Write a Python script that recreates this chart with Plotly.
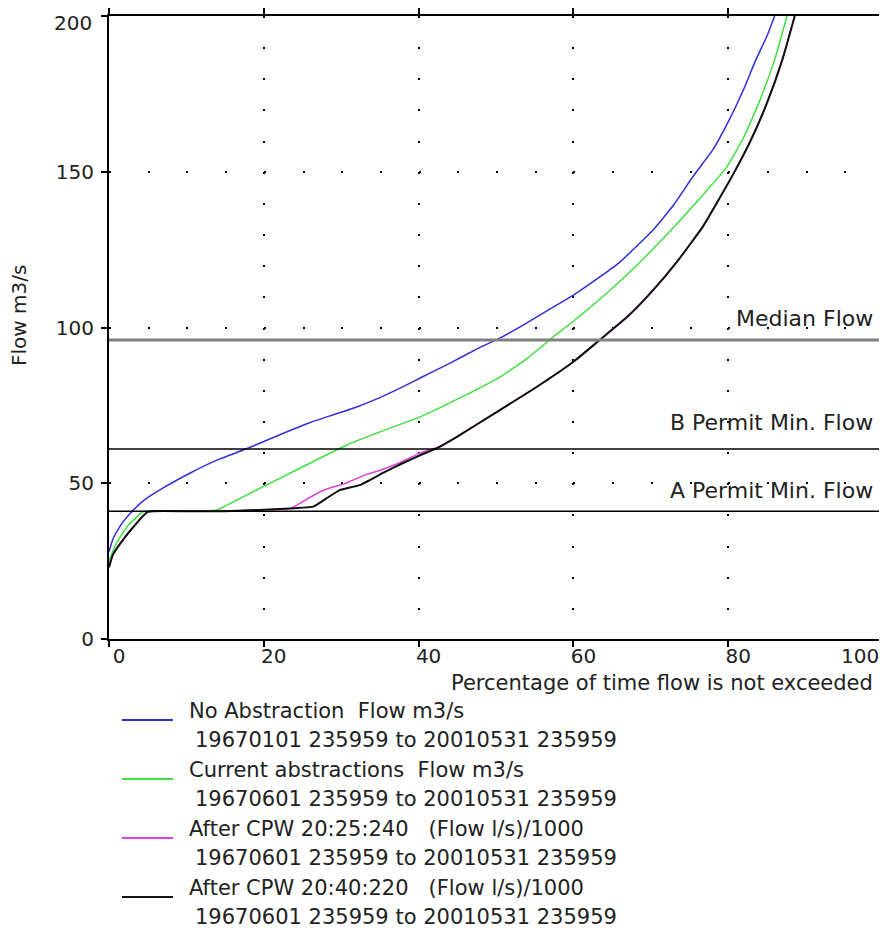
import plotly.graph_objects as go

# ---------------- data ----------------
blue_x = [0, 0.5, 1.5, 3, 4.5, 7, 10.5, 14, 18, 22, 26, 29, 32, 35, 38, 40.2, 44, 48, 50.5,
          54, 57, 60, 63, 66, 70.3, 73, 75.4, 78, 80, 82, 83.5, 85, 86]
blue_y = [28, 32, 36.5, 41, 44.5, 48.5, 53.3, 57.5, 61.3, 65.5, 69.5, 72, 74.5, 77.5, 81, 83.8, 88.5, 93.7, 96.6,
          101.5, 106, 110.4, 115.5, 121, 131.3, 139.5, 148.3, 157, 166, 176.5, 185.5, 193.5, 200]

green_x = [0, 1, 2.5, 4.5, 8, 12, 14, 18, 22, 26, 30.7, 35, 40.2, 45, 50.5, 54, 57.4, 60, 64.3,
           68, 72.9, 76, 79.8, 82, 84.1, 86, 87.6]
green_y = [25, 31, 36.5, 41, 41, 41, 41.5, 46.5, 51.5, 56.5, 62.3, 66.5, 71.3, 77, 84.1, 90, 97, 102, 111,
           119.5, 132, 140.5, 151.5, 161, 173, 186, 200]

magenta_x = [0, 0.5, 1.8, 3.5, 5, 10, 15, 20, 23, 24.3, 26, 27.5, 28.9, 30.4, 32, 33.5, 35.4, 37.5, 40,
             42.4, 45, 50.5, 55, 60, 63.4, 67, 70.3, 73.5, 76.7, 80.6, 83, 85, 87, 88.6]
magenta_y = [23, 27, 31.8, 37, 40.8, 41, 41, 41.5, 41.7, 43, 45.5, 47.5, 48.8, 49.8, 51.5, 53, 54.5, 56.5, 59.5,
             61.5, 65, 73.5, 80.5, 89, 96, 103.5, 112, 121.5, 132.3, 149, 160.5, 172, 186, 200]

black_x = [0, 0.5, 1.8, 3.5, 5, 10, 15, 20, 24, 26.4, 28, 29.8, 32.4, 35.4, 38, 40.2, 42.4, 45, 50.5,
           55, 60, 63.4, 67, 70.3, 73.5, 76.7, 80.6, 83, 85, 87, 88.6]
black_y = [23, 27, 31.8, 37, 40.8, 41, 41, 41.5, 42, 42.5, 45, 47.8, 49.4, 53.3, 56.5, 59, 61.3, 65, 73.5,
           80.5, 89, 96, 103.5, 112, 121.5, 132.3, 149, 160.5, 172, 186, 200]

series_names = ["No Abstraction  Flow m3/s",
                "Current abstractions  Flow m3/s",
                "After CPW 20:25:240   (Flow l/s)/1000",
                "After CPW 20:40:220   (Flow l/s)/1000"]
series_periods = ["19670101 235959 to 20010531 235959",
                  "19670601 235959 to 20010531 235959",
                  "19670601 235959 to 20010531 235959",
                  "19670601 235959 to 20010531 235959"]
series_colors = ["#3030d8", "#40e040", "#e040e0", "#111111"]

ref_levels = [96, 61, 41]
ref_labels = ["Median Flow", "B Permit Min. Flow", "A Permit Min. Flow"]

x_ticks = [0, 20, 40, 60, 80]
x_tick_last = 100
y_ticks = [0, 50, 100, 150]
y_tick_top = 200

FONT = "DejaVu Sans"
TXT = "#222222"

# page body has an 8px margin; figure is sized to fill the rest of the window
OX, OY = 8, 8
W, H = 887 - OX, 933 - OY
PL, PR, PT, PB = 109, 883, 16, 639          # plot box in window pixels
ml, mr, mt, mb = PL - OX, W - (PR - OX), PT - OY, H - (PB - OY)
pw, ph = W - ml - mr, H - mt - mb


def px_x(px):
    return (px - OX - ml) / pw


def px_y(py):
    return (H - mb - (py - OY)) / ph


fig = go.Figure()

# reference lines
ref_styles = [dict(color="#808080", width=3), dict(color="#000000", width=1.5), dict(color="#000000", width=1.5)]
ref_yshift = [21, 26, 21]
for lvl, lab, st, ys in zip(ref_levels, ref_labels, ref_styles, ref_yshift):
    fig.add_shape(type="line", xref="paper", yref="y", x0=0, x1=1, y0=lvl, y1=lvl, line=st, layer="above")
    fig.add_annotation(x=99, y=lvl, xref="x", yref="y", text=lab, showarrow=False,
                       xanchor="right", yanchor="middle", yshift=ys,
                       font=dict(family=FONT, size=22, color=TXT))

xs = [blue_x, green_x, magenta_x, black_x]
ysr = [blue_y, green_y, magenta_y, black_y]
widths = [1.5, 1.5, 1.5, 2]
for i in range(4):
    fig.add_trace(go.Scatter(x=xs[i], y=ysr[i], mode="lines",
                             line=dict(color=series_colors[i], width=widths[i], shape="spline", smoothing=0.4),
                             showlegend=False, hoverinfo="skip"))

# legend drawn manually
for i in range(4):
    base = 711 + 59 * i
    fig.add_shape(type="line", xref="paper", yref="paper", x0=px_x(122), x1=px_x(173),
                  y0=px_y(base + 9), y1=px_y(base + 9), line=dict(color=series_colors[i], width=2))
    fig.add_annotation(xref="paper", yref="paper", x=px_x(187), y=px_y(base), text=series_names[i],
                       showarrow=False, xanchor="left", yanchor="middle",
                       font=dict(family=FONT, size=21, color=TXT))
    fig.add_annotation(xref="paper", yref="paper", x=px_x(193), y=px_y(base + 29), text=series_periods[i],
                       showarrow=False, xanchor="left", yanchor="middle",
                       font=dict(family=FONT, size=21, color=TXT))

# axis titles
fig.add_annotation(xref="paper", yref="paper", x=px_x(875), y=px_y(683),
                   text="Percentage of time flow is not exceeded",
                   showarrow=False, xanchor="right", yanchor="middle", font=dict(family=FONT, size=21, color=TXT))
fig.add_annotation(xref="paper", yref="paper", x=px_x(19), y=px_y(316), text="Flow m3/s", textangle=-90,
                   showarrow=False, xanchor="center", yanchor="middle", font=dict(family=FONT, size=20, color=TXT))
# last x tick label (right-aligned to stay inside the frame)
fig.add_annotation(xref="paper", yref="paper", x=px_x(881), y=px_y(656), text=str(x_tick_last), showarrow=False,
                   xanchor="right", yanchor="middle", font=dict(family=FONT, size=20, color=TXT))
# top y tick label (kept inside the page)
fig.add_annotation(xref="paper", yref="y", x=px_x(94), y=y_tick_top, yshift=-7, text=str(y_tick_top),
                   showarrow=False, xanchor="right", yanchor="middle", font=dict(family=FONT, size=20, color=TXT))

fig.update_layout(
    width=W, height=H, autosize=False,
    margin=dict(l=ml, r=mr, t=mt, b=mb, pad=0, autoexpand=False),
    paper_bgcolor="white", plot_bgcolor="white",
    font=dict(family=FONT, size=20, color=TXT),
    showlegend=False,
    xaxis=dict(range=[0, 100], tickvals=x_ticks, ticktext=[str(v) for v in x_ticks], automargin=False,
               ticklabelshift=10, ticklabelstandoff=-8, ticklabeloverflow="allow",
               showline=True, linecolor="black", linewidth=2,
               mirror="ticks", ticks="outside", ticklen=6, tickwidth=2, tickcolor="black",
               showgrid=True, gridcolor="black", gridwidth=2, griddash="2px,29.15px",
               zeroline=False, tickfont=dict(family=FONT, size=20, color=TXT)),
    yaxis=dict(range=[0, 200], tickvals=y_ticks + [y_tick_top], ticktext=[str(v) for v in y_ticks] + [""],
               automargin=False, ticklabelstandoff=3, ticklabeloverflow="allow",
               showline=True, linecolor="black", linewidth=2, mirror="ticks",
               ticks="outside", ticklen=6, tickwidth=2, tickcolor="black",
               showgrid=True, gridcolor="black", gridwidth=2, griddash="2px,36.7px",
               zeroline=False, tickfont=dict(family=FONT, size=20, color=TXT)),
)

fig.write_html("out.html")
